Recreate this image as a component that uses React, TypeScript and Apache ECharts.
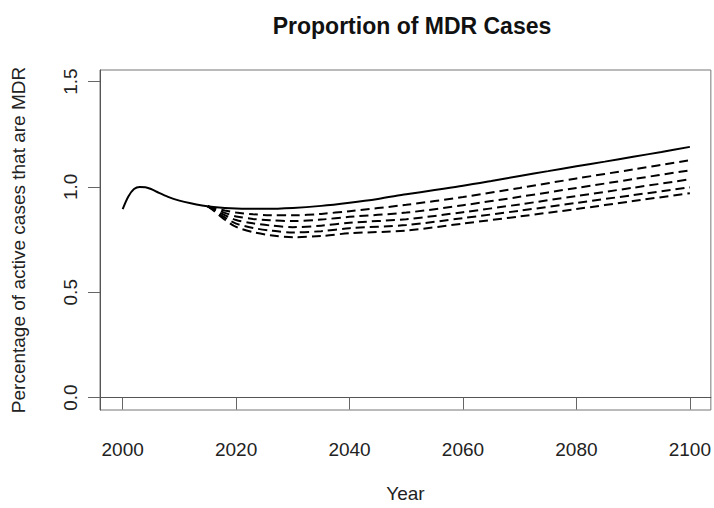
import React, { useEffect, useRef } from "react";
import * as echarts from "echarts";

const baseYears = [2000, 2001, 2002, 2003, 2004, 2005, 2006, 2008, 2010, 2012, 2014, 2016, 2018, 2020, 2022, 2025, 2030, 2035, 2040, 2045, 2050, 2055, 2060, 2065, 2070, 2075, 2080, 2085, 2090, 2095, 2100];
const baseValues = [0.895, 0.955, 0.99, 1.0, 0.998, 0.99, 0.977, 0.953, 0.935, 0.922, 0.912, 0.905, 0.9, 0.897, 0.896, 0.896, 0.9, 0.91, 0.925, 0.943, 0.965, 0.985, 1.005, 1.028, 1.052, 1.075, 1.098, 1.12, 1.143, 1.166, 1.19];

const dashedYears = [2015, 2016, 2018, 2020, 2023, 2026, 2030, 2035, 2040, 2050, 2060, 2070, 2080, 2090, 2100];
const scenario1 = [0.908, 0.9, 0.888, 0.878, 0.87, 0.866, 0.865, 0.872, 0.885, 0.915, 0.952, 0.995, 1.04, 1.083, 1.127];
const scenario2 = [0.908, 0.897, 0.877, 0.86, 0.848, 0.842, 0.838, 0.845, 0.858, 0.878, 0.913, 0.953, 0.995, 1.037, 1.079];
const scenario3 = [0.908, 0.894, 0.866, 0.843, 0.827, 0.817, 0.809, 0.816, 0.83, 0.847, 0.88, 0.917, 0.957, 0.996, 1.036];
const scenario4 = [0.908, 0.891, 0.855, 0.826, 0.805, 0.793, 0.784, 0.79, 0.804, 0.819, 0.852, 0.887, 0.924, 0.961, 0.998];
const scenario5 = [0.908, 0.888, 0.845, 0.81, 0.785, 0.771, 0.761, 0.767, 0.78, 0.793, 0.826, 0.86, 0.895, 0.933, 0.97];

const xTicks = [2000, 2020, 2040, 2060, 2080, 2100];
const yTicks = [0, 0.5, 1.0, 1.5];

const FONT = "'Liberation Sans', Arial, Helvetica, sans-serif";

export default function App() {
  const ref = useRef<HTMLDivElement>(null);
  useEffect(() => {
    document.body.style.margin = "0";
    if (!ref.current) return;
    const chart = echarts.init(ref.current, undefined, { renderer: "svg" });
    const pair = (xs: number[], ys: number[]) => xs.map((x, i) => [x, ys[i]]);
    const dashed = [scenario1, scenario2, scenario3, scenario4, scenario5].map((vals, i) => ({
      type: "line",
      name: "Scenario " + (i + 1),
      data: pair(dashedYears, vals),
      showSymbol: false,
      smooth: 0.3,
      lineStyle: { color: "#000", width: 2, type: [9, 5] },
      z: 2,
    }));
    chart.setOption({
      animation: false,
      textStyle: { fontFamily: FONT },
      title: {
        text: "Proportion of MDR Cases",
        left: 407,
        textAlign: "center",
        top: 9,
        textStyle: { fontSize: 23, fontWeight: "bold", color: "#111", fontFamily: FONT },
      },
      grid: {
        left: 100,
        top: 70,
        width: 613,
        height: 348,
        show: true,
        borderColor: "#777",
        borderWidth: 1,
      },
      xAxis: {
        type: "value",
        min: 1996,
        max: 2103.7,
        name: "Year",
        nameLocation: "middle",
        nameGap: 74,
        nameTextStyle: { fontSize: 19, color: "#222", fontFamily: FONT },
        axisLine: { show: true, lineStyle: { color: "#555", width: 1 } },
        axisTick: { show: true, customValues: xTicks, length: 12, lineStyle: { color: "#666" } },
        axisLabel: {
          customValues: xTicks,
          fontSize: 19,
          color: "#222",
          margin: 30,
          fontFamily: FONT,
          formatter: (v: number) => String(v),
        },
        splitLine: { show: false },
      },
      yAxis: {
        type: "value",
        min: -0.059,
        max: 1.555,
        name: "Percentage of active cases that are MDR",
        nameLocation: "middle",
        nameRotate: 90,
        nameGap: 72,
        nameTextStyle: { fontSize: 19, color: "#222", fontFamily: FONT },
        axisLine: { show: true, lineStyle: { color: "#555", width: 1 } },
        axisTick: { show: true, customValues: yTicks, length: 12, lineStyle: { color: "#666" } },
        axisLabel: {
          customValues: yTicks,
          fontSize: 19,
          color: "#222",
          margin: 20,
          rotate: 90,
          fontFamily: FONT,
          formatter: (v: number) => v.toFixed(1),
        },
        splitLine: { show: false },
      },
      series: [
        {
          type: "line",
          name: "Baseline",
          data: pair(baseYears, baseValues),
          showSymbol: false,
          smooth: 0.3,
          lineStyle: { color: "#000", width: 2 },
          z: 3,
        },
        ...dashed,
      ],
    });
    return () => chart.dispose();
  }, []);
  return <div ref={ref} style={{ width: 714, height: 508 }} />;
}
